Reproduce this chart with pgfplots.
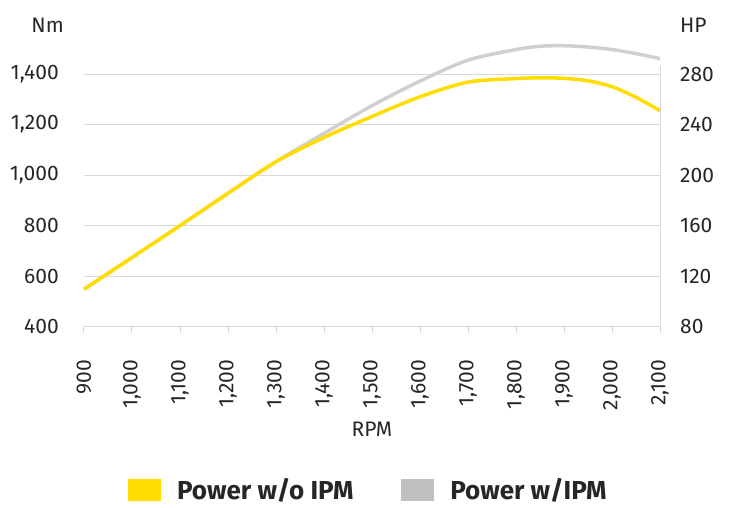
\documentclass[border=0pt]{standalone}
\usepackage{pgfplots}
\pgfplotsset{compat=1.18}
\usepackage{fontspec}
\setmainfont{Fira Sans}
\definecolor{ipmyellow}{HTML}{FFDD00}
\definecolor{ipmgray}{HTML}{D0D0D0}
\definecolor{leggray}{HTML}{BFC0C2}
\definecolor{gridgray}{HTML}{D9D9D9}
\definecolor{txt}{HTML}{262626}
\newcommand{\tickfont}{\fontsize{21}{24}\selectfont}
\begin{document}
\begin{tikzpicture}
\path[use as bounding box] (-84pt,-180.3pt) rectangle (646pt,326.7pt);
\begin{axis}[
  scale only axis, width=576pt, height=261pt,
  xmin=900, xmax=2100, ymin=400, ymax=1433,
  axis x line*=bottom, axis y line*=left,
  x axis line style={gridgray, line width=1pt},
  y axis line style={draw=none},
  xtick={900,1000,...,2100},
  ytick={400,600,...,1400},
  ymajorgrids, grid style={gridgray, line width=1pt},
  x tick style={gridgray, line width=1pt},
  y tick style={draw=none},
  tick align=outside, major tick length=6pt,
  scaled ticks=false,
  /pgf/number format/.cd, 1000 sep={,}, assume math mode=true, /pgfplots/.cd,
  tick label style={font=\tickfont, text=txt, inner sep=0pt},
  xticklabel style={rotate=90, anchor=east},
  xticklabel shift=27pt,
  yticklabel shift=19pt,
  xlabel={RPM}, xlabel style={font=\tickfont, text=txt, at={(axis description cs:0.5,0)}, anchor=center, yshift=-103pt},
  clip=false,
  legend columns=2,
  legend style={at={(axis description cs:0.492,-0.626)}, anchor=center, draw=none, fill=none,
    font=\fontsize{26}{29}\selectfont\bfseries, text=txt,
    nodes={inner sep=0pt},
    /tikz/every odd column/.append style={column sep=17pt},
    /tikz/every even column/.append style={column sep=48pt}},
  legend cell align=left,
]
\addplot[ipmgray, line width=3.5pt, smooth, forget plot] coordinates {
(900,548) (1000,674) (1100,800) (1200,928) (1300,1053) (1400,1165) (1500,1275)
(1600,1372) (1700,1455) (1800,1497) (1850,1510) (1900,1512) (1950,1507) (2000,1497) (2050,1481) (2100,1461)};
\addplot[ipmyellow, line width=3.5pt, smooth, forget plot] coordinates {
(900,548) (1000,674) (1100,800) (1200,928) (1300,1053) (1400,1149) (1500,1232)
(1600,1310) (1700,1368) (1800,1382) (1850,1385) (1900,1383) (1950,1373) (2000,1350) (2050,1308) (2100,1255)};
\addlegendimage{legend image code/.code={\fill[ipmyellow] (0pt,-10pt) rectangle (31.5pt,10.5pt);}}
\addlegendentry{Power w/o IPM}
\addlegendimage{legend image code/.code={\fill[leggray] (0pt,-10pt) rectangle (31.5pt,10.5pt);}}
\addlegendentry{Power w/IPM}
\end{axis}
\begin{axis}[
  scale only axis, width=576pt, height=261pt,
  xmin=900, xmax=2100, ymin=80, ymax=286.6,
  axis x line=none, axis y line*=right,
  y axis line style={gridgray, line width=1pt},
  y tick style={draw=none},
  ytick={80,120,...,280},
  /pgf/number format/.cd, assume math mode=true, /pgfplots/.cd,
  tick label style={font=\tickfont, text=txt, inner sep=0pt},
  yticklabel shift=20pt,
]
\end{axis}
\node[anchor=east, text=txt, font=\tickfont, inner sep=0pt] at (-20pt,301.7pt) {Nm};
\node[anchor=west, text=txt, font=\tickfont, inner sep=0pt] at (596pt,301.7pt) {HP};
\end{tikzpicture}
\end{document}
